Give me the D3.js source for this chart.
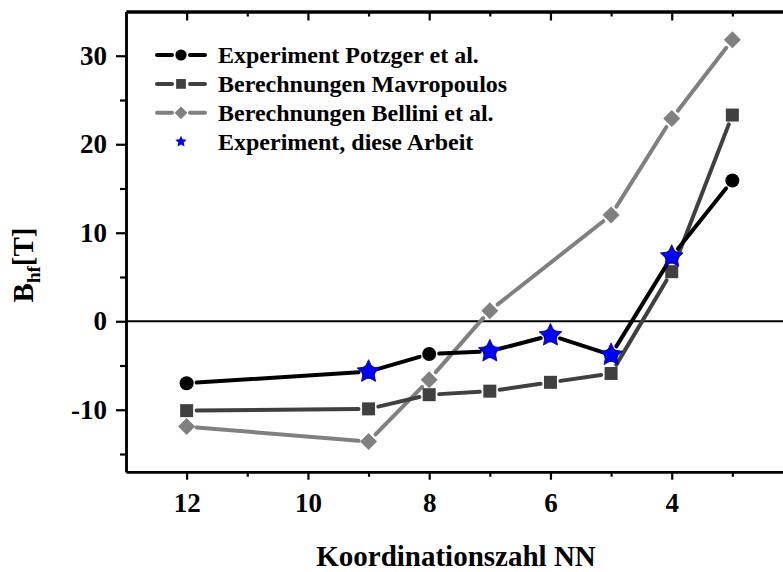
<!DOCTYPE html>
<html>
<head>
<meta charset="utf-8">
<script src="https://cdn.jsdelivr.net/npm/d3@7"></script>
<style>
  body { margin: 0; background: #fff; }
  svg { display: block; font-family: "Liberation Serif", "Times New Roman", serif; font-weight: bold; }
</style>
</head>
<body>
<svg id="chart" width="783" height="572"></svg>
<script>
// coordination numbers and hyperfine fields (T)
const potzgerNN = [12, 9, 8, 7, 6, 5, 4, 3];
const potzgerB = [-7.0, -5.7, -3.7, -3.4, -1.6, -3.8, 7.3, 15.9];

const mavroNN = [12, 9, 8, 7, 6, 5, 4, 3];
const mavroB = [-10.1, -9.9, -8.3, -7.9, -6.9, -5.9, 5.6, 23.3];

const belliniNN = [12, 9, 8, 7, 5, 4, 3];
const belliniB = [-11.9, -13.6, -6.6, 1.2, 12.0, 22.9, 31.8];

const arbeitNN = [9, 7, 6, 5, 4];
const arbeitB = [-5.7, -3.4, -1.6, -3.8, 7.3];

const xMajor = [12, 10, 8, 6, 4];
const xMinor = [11, 9, 7, 5, 3];
const yMajor = [-10, 0, 10, 20, 30];
const yMinor = [-15, -5, 5, 15, 25];

const legendLabels = [
  "Experiment Potzger et al.",
  "Berechnungen Mavropoulos",
  "Berechnungen Bellini et al.",
  "Experiment, diese Arbeit"
];

const svg = d3.select("#chart");

const plotLeft = 126, plotRight = 793, plotTop = 11.5, plotBottom = 471.7;
const x = d3.scaleLinear().domain([13, 2]).range([plotLeft, plotRight]);
const y = d3.scaleLinear().domain([-17, 35]).range([plotBottom, plotTop]);

const zip = (a, b) => a.map((v, i) => [v, b[i]]);
const plainNumber = (d) => String(d); // keep hyphen minus like the original

const starPath = (r, inner) => {
  const pts = [];
  for (let i = 0; i < 10; i++) {
    const rr = i % 2 === 0 ? r : r * inner;
    const a = -Math.PI / 2 + (i * Math.PI) / 5;
    pts.push([rr * Math.cos(a), rr * Math.sin(a)]);
  }
  return "M" + pts.map((p) => p.join(",")).join("L") + "Z";
};

// zero line
svg.append("line")
  .attr("x1", plotLeft).attr("x2", plotRight)
  .attr("y1", y(0)).attr("y2", y(0))
  .attr("stroke", "#000").attr("stroke-width", 2);

// series drawn as segments with small gaps at the markers (Origin style)
const series = [
  { data: zip(belliniNN, belliniB), color: "#808080", shape: "diamond" },
  { data: zip(mavroNN, mavroB), color: "#404040", shape: "square" },
  { data: zip(potzgerNN, potzgerB), color: "#000000", shape: "circle" }
];

const drawMarker = (g, shape, color, cx, cy) => {
  if (shape === "circle") {
    g.append("circle").attr("cx", cx).attr("cy", cy).attr("r", 7).attr("fill", color);
  } else if (shape === "square") {
    g.append("rect").attr("x", cx - 6.5).attr("y", cy - 6.5)
      .attr("width", 13).attr("height", 13).attr("fill", color);
  } else {
    g.append("path")
      .attr("d", `M${cx},${cy - 8.5}L${cx + 8.5},${cy}L${cx},${cy + 8.5}L${cx - 8.5},${cy}Z`)
      .attr("fill", color);
  }
};

const gap = 10;
series.forEach((s) => {
  const g = svg.append("g");
  const pts = s.data.map((d) => [x(d[0]), y(d[1])]);
  for (let i = 0; i < pts.length - 1; i++) {
    const [x1, y1] = pts[i], [x2, y2] = pts[i + 1];
    const len = Math.hypot(x2 - x1, y2 - y1);
    if (len <= 2 * gap) continue;
    const ux = (x2 - x1) / len, uy = (y2 - y1) / len;
    g.append("line")
      .attr("x1", x1 + ux * gap).attr("y1", y1 + uy * gap)
      .attr("x2", x2 - ux * gap).attr("y2", y2 - uy * gap)
      .attr("stroke", s.color).attr("stroke-width", 4)
      .attr("stroke-linecap", "round");
  }
  pts.forEach((p) => drawMarker(g, s.shape, s.color, p[0], p[1]));
});

// stars, this work
svg.append("g")
  .selectAll("path")
  .data(zip(arbeitNN, arbeitB))
  .enter()
  .append("path")
  .attr("transform", (d) => `translate(${x(d[0])},${y(d[1])})`)
  .attr("d", starPath(12, 0.48))
  .attr("fill", "#0000ff")
  .attr("stroke", "#00008b")
  .attr("stroke-width", 0.8);

// axes
const styleAxis = (g, width) => {
  g.select(".domain").attr("stroke-width", width);
  g.selectAll(".tick line").attr("stroke-width", 2.2);
};

const bottomMajor = svg.append("g")
  .attr("transform", `translate(0,${plotBottom})`)
  .call(d3.axisBottom(x).tickValues(xMajor).tickFormat(plainNumber)
    .tickSize(8).tickPadding(13).tickSizeOuter(0));
styleAxis(bottomMajor, 2.5);
bottomMajor.selectAll("text").attr("font-size", 27).attr("fill", "#000")
  .attr("font-family", "Liberation Serif, serif").attr("font-weight", "bold");

const bottomMinor = svg.append("g")
  .attr("transform", `translate(0,${plotBottom})`)
  .call(d3.axisBottom(x).tickValues(xMinor).tickSize(5).tickFormat("").tickSizeOuter(0));
styleAxis(bottomMinor, 2.5);

const topMajor = svg.append("g")
  .attr("transform", `translate(0,${plotTop})`)
  .call(d3.axisBottom(x).tickValues(xMajor).tickSize(9).tickFormat("").tickSizeOuter(0));
styleAxis(topMajor, 3);

const topMinor = svg.append("g")
  .attr("transform", `translate(0,${plotTop})`)
  .call(d3.axisBottom(x).tickValues(xMinor).tickSize(5).tickFormat("").tickSizeOuter(0));
styleAxis(topMinor, 3);

const leftMajor = svg.append("g")
  .attr("transform", `translate(${plotLeft},0)`)
  .call(d3.axisLeft(y).tickValues(yMajor).tickFormat(plainNumber)
    .tickSize(10).tickPadding(9).tickSizeOuter(0));
styleAxis(leftMajor, 2.5);
leftMajor.selectAll("text").attr("font-size", 27).attr("fill", "#000")
  .attr("font-family", "Liberation Serif, serif").attr("font-weight", "bold");

const leftMinor = svg.append("g")
  .attr("transform", `translate(${plotLeft},0)`)
  .call(d3.axisLeft(y).tickValues(yMinor).tickSize(6).tickFormat("").tickSizeOuter(0));
styleAxis(leftMinor, 2.5);

svg.append("line")
  .attr("x1", plotRight).attr("x2", plotRight).attr("y1", plotTop).attr("y2", plotBottom)
  .attr("stroke", "#000").attr("stroke-width", 2.5);

// axis titles
svg.append("text")
  .attr("x", 456).attr("y", 566)
  .attr("text-anchor", "middle")
  .attr("font-size", 29)
  .text("Koordinationszahl NN");

const yTitle = svg.append("text")
  .attr("transform", "translate(33,265) rotate(-90)")
  .attr("text-anchor", "middle")
  .attr("font-size", 29);
yTitle.append("tspan").text("B");
yTitle.append("tspan").attr("font-size", 19).attr("dy", 7).text("hf");
yTitle.append("tspan").attr("dy", -7).text("[T]");

// legend
const legendItems = [
  { label: legendLabels[0], color: "#000000", shape: "circle" },
  { label: legendLabels[1], color: "#404040", shape: "square" },
  { label: legendLabels[2], color: "#808080", shape: "diamond" },
  { label: legendLabels[3], color: "#0000ff", shape: "star" }
];
const legendY = d3.scaleLinear().domain([0, 3]).range([55, 141.7]);

legendItems.forEach((item, i) => {
  const cy = legendY(i);
  const g = svg.append("g");
  if (item.shape === "star") {
    g.append("path")
      .attr("transform", `translate(181,${cy})`)
      .attr("d", starPath(6, 0.48))
      .attr("fill", "#0000ff");
  } else {
    [[157, 172], [190, 205]].forEach(([a, b]) => {
      g.append("line")
        .attr("x1", a).attr("x2", b).attr("y1", cy).attr("y2", cy)
        .attr("stroke", item.color).attr("stroke-width", 4)
        .attr("stroke-linecap", "round");
    });
    const sc = item.shape === "circle" ? 0.8 : 0.75;
    const mg = g.append("g").attr("transform", `translate(181,${cy}) scale(${sc})`);
    drawMarker(mg, item.shape, item.color, 0, 0);
  }
  svg.append("text")
    .attr("x", 218).attr("y", cy + 8)
    .attr("font-size", 24)
    .text(item.label);
});
</script>
</body>
</html>
